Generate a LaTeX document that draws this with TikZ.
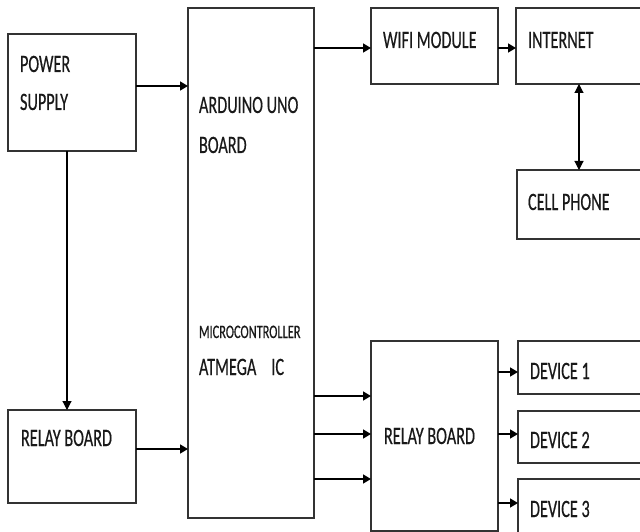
\documentclass[tikz,border=0pt]{standalone}
\usepackage{fontspec}
\setmainfont{Carlito}[FakeStretch=0.65,FakeBold=0.4]
\usetikzlibrary{arrows.meta}
\begin{document}
\begin{tikzpicture}[x=1pt,y=-1pt,
  box/.style={draw=black!80,line width=1.4pt,inner sep=0pt,outer sep=0pt,rectangle},
  txt/.style={anchor=base west,inner sep=0pt,outer sep=0pt,text=black!90,font=\fontsize{25}{25}\selectfont},
  small/.style={anchor=base west,inner sep=0pt,outer sep=0pt,text=black!90,font=\fontsize{19}{19}\selectfont},
  arr/.style={line width=1.5pt,-{Triangle[length=8pt,width=9pt]}},
  thin/.style={line width=1.1pt,-{Triangle[length=9pt,width=9pt]}},
  dbl/.style={line width=1.1pt,{Triangle[length=9pt,width=9pt]}-{Triangle[length=9pt,width=9pt]}}]
\useasboundingbox (0,0) rectangle (640,532);
\clip (0,0) rectangle (640,532);
\fill[white] (0,0) rectangle (640,532);
% boxes
\node[box,minimum width=128pt,minimum height=117pt] (ps) at (72,92.5) {};
\node[box,minimum width=126pt,minimum height=510pt] (ard) at (251,263) {};
\node[box,minimum width=128pt,minimum height=93pt] (rbl) at (72,456.5) {};
\node[box,minimum width=127pt,minimum height=76pt] (wifi) at (434.5,46) {};
\node[box,minimum width=134pt,minimum height=76pt] (inet) at (583,46) {};
\node[box,minimum width=133pt,minimum height=69pt] (cell) at (583.5,204.5) {};
\node[box,minimum width=127pt,minimum height=190pt] (rbr) at (434.5,436) {};
\node[box,minimum width=132pt,minimum height=53pt] (d1) at (584,367.5) {};
\node[box,minimum width=132pt,minimum height=52pt] (d2) at (584,437) {};
\node[box,minimum width=132pt,minimum height=66pt] (d3) at (584,512) {};
% texts
\node[txt] (tps1) at (20,72) {POWER};
\node[txt] (tps2) at (20,110) {SUPPLY};
\node[txt] (tard1) at (199,113) {ARDUINO UNO};
\node[txt] (tard2) at (199,153) {BOARD};
\node[small] (tmc) at (199,338) {MICROCONTROLLER};
\node[txt] (tat) at (199,375) {ATMEGA\hspace{15pt}IC};
\node[txt] (trbl) at (21,446) {RELAY BOARD};
\node[txt] (twifi) at (383,48) {WIFI MODULE};
\node[txt] (tinet) at (528,48) {INTERNET};
\node[txt] (tcell) at (528,210) {CELL PHONE};
\node[txt] (trbr) at (384,444) {RELAY BOARD};
\node[txt] (td1) at (530,379) {DEVICE 1};
\node[txt] (td2) at (530,448) {DEVICE 2};
\node[txt] (td3) at (530,517) {DEVICE 3};
% connectors
\draw[arr] (ps.east |- 0,86) -- (ard.west |- 0,86);
\draw[thin] (ps.south -| 67,0) -- (rbl.north -| 67,0);
\draw[arr] (rbl.east |- 0,449) -- (ard.west |- 0,449);
\draw[arr] (ard.east |- 0,48) -- (wifi.west |- 0,48);
\draw[arr] (wifi.east |- 0,48) -- (inet.west |- 0,48);
\draw[dbl] (inet.south -| 579,0) -- (cell.north -| 579,0);
\draw[arr] (ard.east |- 0,396) -- (rbr.west |- 0,396);
\draw[arr] (ard.east |- 0,434) -- (rbr.west |- 0,434);
\draw[arr] (ard.east |- 0,479) -- (rbr.west |- 0,479);
\draw[arr] (rbr.east |- 0,372) -- (d1.west |- 0,372);
\draw[arr] (rbr.east |- 0,434) -- (d2.west |- 0,434);
\draw[arr] (rbr.east |- 0,503) -- (d3.west |- 0,503);
\end{tikzpicture}
\end{document}
